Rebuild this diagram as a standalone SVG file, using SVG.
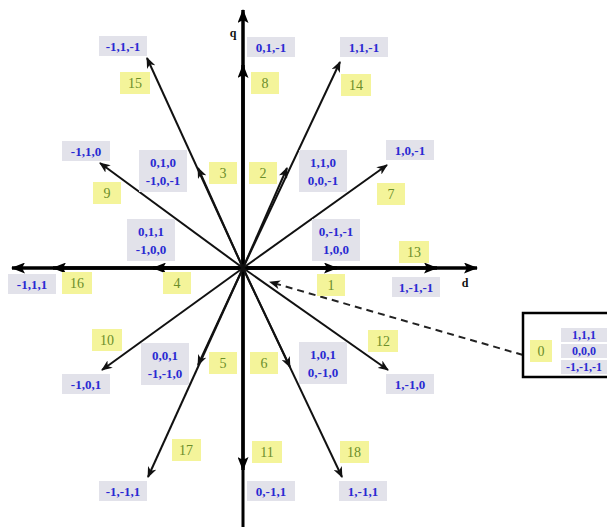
<svg xmlns="http://www.w3.org/2000/svg" width="607" height="527" viewBox="0 0 607 527">
<style>
.gb{fill:#e2e2ea}
.yb{fill:#f4f49a}
.gt{fill:#2a2ad2;font-family:"Liberation Serif",serif;font-weight:bold;font-size:13px;text-anchor:middle;dominant-baseline:central}
.gs{font-size:12px}
.yt{fill:#6b8e2a;font-family:"Liberation Serif",serif;font-size:14px;text-anchor:middle;dominant-baseline:central}
.ax{fill:#111;font-family:"Liberation Serif",serif;font-weight:bold;font-size:12px;text-anchor:middle;dominant-baseline:central}
.v{stroke:#111;stroke-width:2;fill:none;marker-end:url(#ah)}
.a{stroke:#000;stroke-width:3.5;fill:none;marker-end:url(#ahb)}
</style>
<defs>
<marker id="ah" markerUnits="userSpaceOnUse" markerWidth="11" markerHeight="9" refX="10" refY="4.5" orient="auto"><path d="M0,0 L11,4.5 L0,9 L3,4.5 z" fill="#111"/></marker>
<marker id="ahb" markerUnits="userSpaceOnUse" markerWidth="14" markerHeight="11" refX="13" refY="5.5" orient="auto"><path d="M0,0 L14,5.5 L0,11 L3,5.5 z" fill="#000"/></marker>
</defs>
<rect width="607" height="527" fill="#fff"/>
<g id="connectors">
<line class="a" x1="243" y1="268" x2="477" y2="268"/>
<line class="a" x1="243" y1="268" x2="437" y2="268"/>
<line class="a" x1="243" y1="268" x2="337" y2="268"/>
<line class="a" x1="243" y1="268" x2="12" y2="268"/>
<line class="a" x1="243" y1="268" x2="53" y2="268"/>
<line class="a" x1="243" y1="268" x2="153" y2="268"/>
<line class="a" x1="243" y1="268" x2="243" y2="10"/>
<line class="a" x1="243" y1="268" x2="243" y2="65"/>
<line x1="243" y1="268" x2="243" y2="527" stroke="#000" stroke-width="3"/>
<line class="a" x1="243" y1="268" x2="243" y2="470"/>
<line class="v" x1="243" y1="268" x2="340" y2="62"/>
<line class="v" x1="243" y1="268" x2="287" y2="168"/>
<line class="v" x1="243" y1="268" x2="147" y2="58"/>
<line class="v" x1="243" y1="268" x2="198" y2="168"/>
<line class="v" x1="243" y1="268" x2="387" y2="165"/>
<line class="v" x1="243" y1="268" x2="100" y2="163"/>
<line class="v" x1="243" y1="268" x2="102" y2="370"/>
<line class="v" x1="243" y1="268" x2="388" y2="370"/>
<line class="v" x1="243" y1="268" x2="198" y2="365"/>
<line class="v" x1="243" y1="268" x2="148" y2="477"/>
<line class="v" x1="243" y1="268" x2="290" y2="367"/>
<line class="v" x1="243" y1="268" x2="342" y2="477"/>
<line x1="523" y1="355" x2="270" y2="282" stroke="#222" stroke-width="2" stroke-dasharray="7,5" marker-end="url(#ah)"/>
</g>
<g id="axis-labels">
<text class="ax" x="233" y="33">q</text>
<text class="ax" x="465" y="283">d</text>
</g>
<g id="v15"><rect class="gb" x="99" y="36" width="48" height="20"/><text class="gt" x="123" y="46">-1,1,-1</text><rect class="yb" x="120" y="72" width="30" height="22"/><text class="yt" x="135" y="83">15</text></g>
<g id="v8"><rect class="gb" x="247" y="37" width="48" height="20"/><text class="gt" x="271" y="47">0,1,-1</text><rect class="yb" x="251" y="72" width="28" height="22"/><text class="yt" x="265" y="83">8</text></g>
<g id="v14"><rect class="gb" x="340" y="37" width="48" height="20"/><text class="gt" x="364" y="47">1,1,-1</text><rect class="yb" x="341" y="74" width="30" height="22"/><text class="yt" x="356" y="85">14</text></g>
<g id="v9"><rect class="gb" x="62" y="141" width="48" height="20"/><text class="gt" x="86" y="151">-1,1,0</text><rect class="yb" x="93" y="182" width="28" height="22"/><text class="yt" x="107" y="193">9</text></g>
<g id="v7"><rect class="gb" x="386" y="140" width="48" height="20"/><text class="gt" x="410" y="150">1,0,-1</text><rect class="yb" x="377" y="183" width="28" height="22"/><text class="yt" x="391" y="194">7</text></g>
<g id="v3"><rect class="gb" x="139" y="150" width="48" height="42"/><text class="gt" x="163" y="162">0,1,0</text><text class="gt" x="163" y="180">-1,0,-1</text><rect class="yb" x="209" y="162" width="28" height="22"/><text class="yt" x="223" y="173">3</text></g>
<g id="v2"><rect class="gb" x="299" y="150" width="48" height="42"/><text class="gt" x="323" y="162">1,1,0</text><text class="gt" x="323" y="180">0,0,-1</text><rect class="yb" x="249" y="162" width="28" height="22"/><text class="yt" x="263" y="173">2</text></g>
<g id="v4"><rect class="gb" x="127" y="219" width="48" height="42"/><text class="gt" x="151" y="231">0,1,1</text><text class="gt" x="151" y="249">-1,0,0</text><rect class="yb" x="163" y="272" width="28" height="22"/><text class="yt" x="177" y="283">4</text></g>
<g id="v1"><rect class="gb" x="312" y="219" width="48" height="42"/><text class="gt" x="336" y="231">0,-1,-1</text><text class="gt" x="336" y="249">1,0,0</text><rect class="yb" x="317" y="274" width="28" height="22"/><text class="yt" x="331" y="285">1</text></g>
<g id="v13"><rect class="yb" x="399" y="241" width="30" height="22"/><text class="yt" x="414" y="252">13</text><rect class="gb" x="392" y="277" width="48" height="20"/><text class="gt" x="416" y="287">1,-1,-1</text></g>
<g id="v16"><rect class="gb" x="8" y="274" width="48" height="20"/><text class="gt" x="32" y="284">-1,1,1</text><rect class="yb" x="62" y="272" width="30" height="22"/><text class="yt" x="77" y="283">16</text></g>
<g id="v12"><rect class="yb" x="368" y="330" width="30" height="22"/><text class="yt" x="383" y="341">12</text><rect class="gb" x="386" y="374" width="48" height="20"/><text class="gt" x="410" y="384">1,-1,0</text></g>
<g id="v10"><rect class="yb" x="92" y="329" width="30" height="22"/><text class="yt" x="107" y="340">10</text><rect class="gb" x="62" y="374" width="48" height="20"/><text class="gt" x="86" y="384">-1,0,1</text></g>
<g id="v5"><rect class="gb" x="141" y="343" width="48" height="42"/><text class="gt" x="165" y="355">0,0,1</text><text class="gt" x="165" y="373">-1,-1,0</text><rect class="yb" x="209" y="352" width="28" height="22"/><text class="yt" x="223" y="363">5</text></g>
<g id="v6"><rect class="gb" x="299" y="342" width="48" height="42"/><text class="gt" x="323" y="354">1,0,1</text><text class="gt" x="323" y="372">0,-1,0</text><rect class="yb" x="250" y="352" width="28" height="22"/><text class="yt" x="264" y="363">6</text></g>
<g id="v17"><rect class="yb" x="172" y="439" width="29" height="22"/><text class="yt" x="186" y="450">17</text><rect class="gb" x="99" y="481" width="48" height="20"/><text class="gt" x="123" y="491">-1,-1,1</text></g>
<g id="v11"><rect class="yb" x="252" y="441" width="30" height="22"/><text class="yt" x="267" y="452">11</text><rect class="gb" x="247" y="481" width="48" height="20"/><text class="gt" x="271" y="491">0,-1,1</text></g>
<g id="v18"><rect class="yb" x="340" y="441" width="29" height="22"/><text class="yt" x="354" y="452">18</text><rect class="gb" x="339" y="481" width="48" height="20"/><text class="gt" x="363" y="491">1,-1,1</text></g>
<g id="v0">
<rect class="yb" x="530" y="340" width="22" height="22"/><text class="yt" x="541" y="351">0</text>
<rect class="gb" x="561" y="328" width="46" height="14"/><text class="gt gs" x="584" y="335">1,1,1</text>
<rect class="gb" x="561" y="344" width="46" height="14"/><text class="gt gs" x="584" y="351">0,0,0</text>
<rect class="gb" x="561" y="360" width="46" height="14"/><text class="gt gs" x="584" y="367">-1,-1,-1</text>
<path d="M607,313 H523 V377 H607" fill="none" stroke="#000" stroke-width="2.5"/>
</g>
</svg>
